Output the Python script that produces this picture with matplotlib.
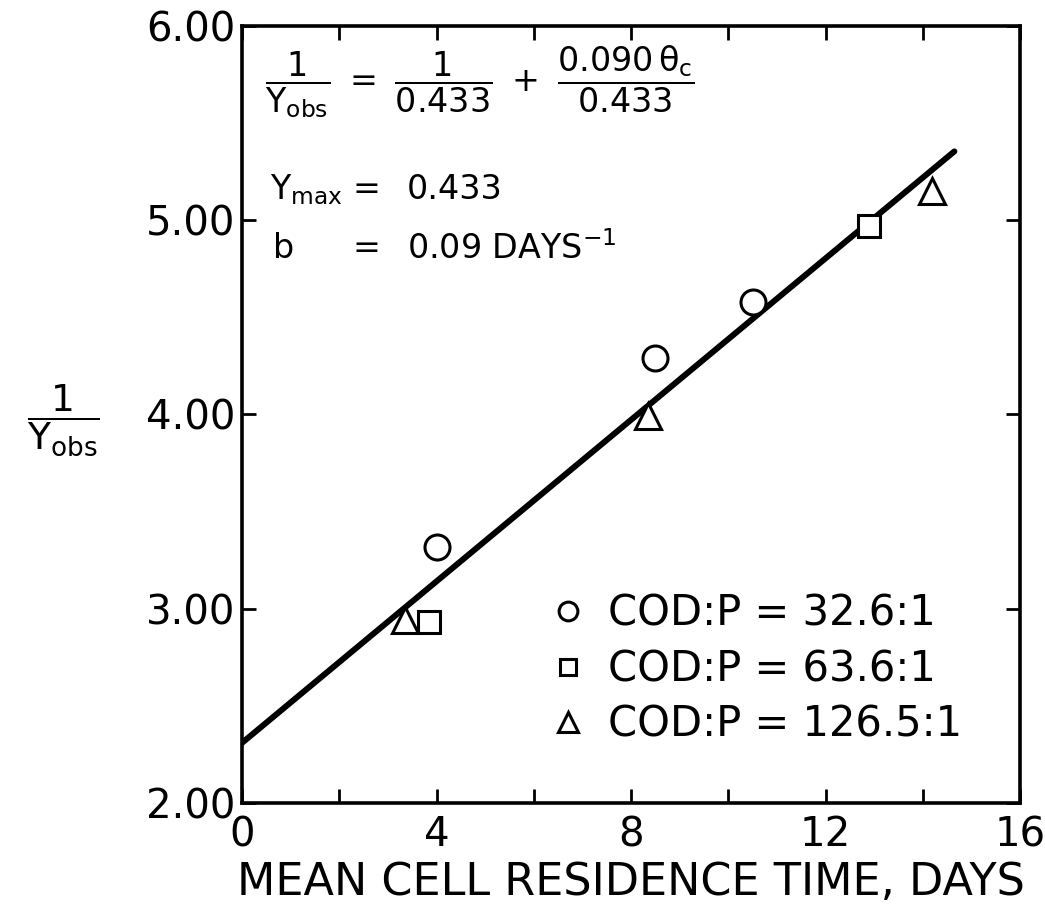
"""
1/Yobs versus mean cell residence time, with the fitted line
1/Yobs = 1/Ymax + b*theta_c/Ymax.
"""

import matplotlib
matplotlib.use('Agg')
import matplotlib.pyplot as plt
import numpy as np
from matplotlib.ticker import MultipleLocator, FormatStrFormatter

plt.rcParams['font.family'] = ['DejaVu Sans']
plt.rcParams['mathtext.default'] = 'regular'

# ---------- data ----------
y_max = 0.433          # true growth yield
b_decay = 0.090        # DAYS^-1
fit_theta = [0.0, 14.65]

series_labels = ['COD:P = 32.6:1', 'COD:P = 63.6:1', 'COD:P = 126.5:1']
series_markers = ['o', 's', '^']

circle_theta = [4.0, 8.5, 10.5]
circle_inv_y = [3.32, 4.29, 4.58]

square_theta = [3.85, 12.9]
square_inv_y = [2.93, 4.97]

triangle_theta = [3.35, 8.35, 14.2]
triangle_inv_y = [2.94, 3.99, 5.15]

# ---------- figure ----------
fig = plt.figure(figsize=(10.45, 9.18), dpi=100)
ax = fig.add_axes([0.2316, 0.1253, 0.7445, 0.8464])

theta = np.array(fit_theta)
ax.plot(theta, 1 / y_max + b_decay * theta / y_max,
        color='black', linewidth=4.3, solid_capstyle='round', zorder=2)

marker_sizes = {'o': 18, 's': 16, '^': 19}
for xs, ys, m, lab in zip([circle_theta, square_theta, triangle_theta],
                          [circle_inv_y, square_inv_y, triangle_inv_y],
                          series_markers, series_labels):
    ax.plot(xs, ys, linestyle='none', marker=m, markersize=marker_sizes[m],
            markerfacecolor='white', markeredgecolor='black',
            markeredgewidth=2.2, label=lab, zorder=3)

ax.set_xlim(0, 16)
ax.set_ylim(2, 6)
ax.xaxis.set_major_locator(MultipleLocator(4))
ax.xaxis.set_minor_locator(MultipleLocator(2))
ax.yaxis.set_major_locator(MultipleLocator(1))
ax.yaxis.set_major_formatter(FormatStrFormatter('%.2f'))

for s in ax.spines.values():
    s.set_linewidth(2.6)

ax.tick_params(which='both', direction='in', top=True, right=True,
               length=10, width=2, color='black')
ax.tick_params(axis='x', which='major', labelsize=29, pad=9)
ax.tick_params(axis='y', which='major', labelsize=29, pad=5)

ax.set_xlabel('MEAN CELL RESIDENCE TIME, DAYS', fontsize=32, labelpad=4)
ax.set_ylabel(r'$\dfrac{1}{Y_{obs}}$', fontsize=27, rotation=0,
              ha='center', va='center')
ax.yaxis.set_label_coords(-0.23, 0.493)

# equation block, top left
ax.text(0.03, 0.928,
        r'$\dfrac{1}{Y_{obs}}\ =\ \dfrac{1}{0.433}\ +\ \dfrac{0.090\,\theta_c}{0.433}$',
        transform=ax.transAxes, fontsize=24, ha='left', va='center')

ax.text(0.036, 0.789, r'$Y_{max}$', transform=ax.transAxes, fontsize=24,
        ha='left', va='center')
ax.text(0.16, 0.789, '=', transform=ax.transAxes, fontsize=24,
        ha='center', va='center')
ax.text(0.212, 0.789, f'{y_max:.3f}', transform=ax.transAxes, fontsize=24,
        ha='left', va='center')

ax.text(0.04, 0.714, 'b', transform=ax.transAxes, fontsize=24,
        ha='left', va='center')
ax.text(0.16, 0.714, '=', transform=ax.transAxes, fontsize=24,
        ha='center', va='center')
ax.text(0.212, 0.714, r'0.09 DAYS$^{-1}$', transform=ax.transAxes,
        fontsize=24, ha='left', va='center')

ax.legend(loc='center left', bbox_to_anchor=(0.406, 0.172), frameon=False,
          fontsize=30, markerscale=0.75, handlelength=0.5, handletextpad=0.7,
          labelspacing=0.32, borderpad=0, borderaxespad=0)

plt.savefig('out.png', dpi=100)
